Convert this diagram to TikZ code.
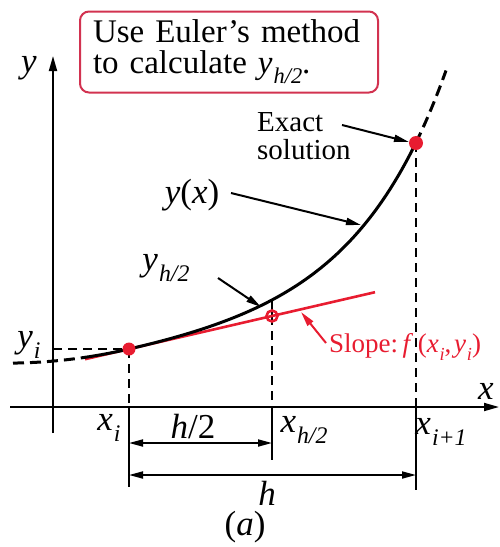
\documentclass[tikz,border=0pt]{standalone}
\usepackage{fontspec}
\setmainfont{Liberation Serif}
\usepackage{graphicx}
\usetikzlibrary{arrows.meta}
\definecolor{redline}{RGB}{232,28,48}
\definecolor{boxred}{RGB}{210,50,80}
\newcommand{\vsub}[2]{\textit{#1}\kern0.03em\raisebox{-0.3em}{\scalebox{0.68}{\textit{#2}}}}
\begin{document}
\begin{tikzpicture}[x=1pt,y=-1pt,
  axis/.style={line width=1.8pt,-{Triangle[length=15pt,width=8pt]}},
  curve/.style={line width=3pt},
  guide/.style={line width=1.8pt,dash pattern=on 9pt off 6pt},
  curvedash/.style={line width=3pt,dash pattern=on 11pt off 6pt},
  ext/.style={line width=1.8pt},
  dim/.style={line width=1.8pt,{Triangle[length=14pt,width=7pt]}-{Triangle[length=14pt,width=7pt]}},
  pointer/.style={line width=2pt,-{Triangle[length=15pt,width=7pt]}},
  big/.style={font=\fontsize{35}{35}\selectfont,inner sep=0pt},
  mid/.style={font=\fontsize{29}{28}\selectfont,inner sep=0pt},
  reddot/.style={circle,fill=redline,minimum size=13pt,inner sep=0pt},
  redring/.style={circle,draw=redline,line width=2.6pt,minimum size=11pt,inner sep=0pt}
]
\useasboundingbox (0,0) rectangle (500,547);

% axes
\coordinate (xa0) at (10,407);
\coordinate (xa1) at (499,407);
\coordinate (ya0) at (53,433);
\coordinate (ya1) at (53,56);
\draw[axis] (xa0) -- (xa1);
\draw[axis] (ya0) -- (ya1);
\node[big] (xlab) at (486,391) {\textit{x}};
\node[big] (ylab) at (29,68) {\textit{y}};

% key points
\coordinate (Pi) at (129,349);
\coordinate (Ph) at (272,316);
\coordinate (Ch) at (272,300);
\coordinate (Pe) at (416,143);
\coordinate (Xi) at (129,407);
\coordinate (Xh) at (272,407);
\coordinate (Xe) at (416,407);
\coordinate (Xib) at (129,487);
\coordinate (Xhb) at (272,460);
\coordinate (Xeb) at (416,490);
\coordinate (Yi) at (53,349);

% guides
\draw[guide] (Yi) -- (Pi);
\draw[guide] (Pi) -- (Xi);
\draw[ext] (Ch) -- (Ph);
\draw[guide] (Ph) -- (Xh);
\draw[guide] (Pe) -- (Xe);
\draw[ext] (Xi) -- (Xib);
\draw[ext] (Xh) -- (Xhb);
\draw[ext] (Xe) -- (Xeb);

% tangent
\coordinate (T0) at (85,359.2);
\coordinate (T1) at (375,292.2);
\draw[redline,line width=2.6pt] (T0) -- (T1);

% curve
\draw[curvedash] plot[domain=13:85,samples=30] (\x,{349+0.231*(129-\x)-0.000951*(129-\x)^2});
\draw[curve] plot[domain=85:129,samples=20] (\x,{349+0.231*(129-\x)-0.000951*(129-\x)^2});
\draw[curve] plot[domain=129:416,samples=80] (\x,{349-0.231*(\x-129)-6.78*(exp(0.0112*(\x-129))-1-0.0112*(\x-129))});
\draw[curvedash] plot[domain=416:446,samples=20] (\x,{349-0.231*(\x-129)-6.78*(exp(0.0112*(\x-129))-1-0.0112*(\x-129))});

% points
\node[reddot] (dotI) at (Pi) {};
\node[redring] (ringH) at (Ph) {};
\node[reddot,minimum size=14pt] (dotE) at (Pe) {};

% dimension arrows
\coordinate (Dh0) at (129,443);
\coordinate (Dh1) at (272,443);
\coordinate (D0) at (129,475);
\coordinate (D1) at (416,475);
\draw[dim] (Dh0) -- (Dh1);
\draw[dim] (D0) -- (D1);

% axis labels
\node[big] (lxi) at (109,428) {\vsub{x}{i}};
\node[big] (lh2) at (193,427) {\textit{h}/2};
\node[big] (lxh) at (304,430) {\vsub{x}{h/2}};
\node[big] (lxe) at (441,432) {\vsub{x}{i+1}};
\node[big] (lh) at (267,493) {\textit{h}};
\node[big] (la) at (245,527) {(\textit{a})};
\node[big] (lyi) at (29,345) {\vsub{y}{i}};

% box
\node[draw=boxred,line width=2pt,rounded corners=9pt,minimum width=298pt,minimum height=81pt,
  align=left,font=\fontsize{33}{31}\selectfont,inner sep=0pt,text width=272pt] (box) at (229,52)
  {Use Euler’s method\\to calculate \vsub{y}{h/2}.};

% labels with pointers
\node[mid,align=left,anchor=west] (exact) at (257,136) {Exact\\solution};
\coordinate (ea0) at (342,125);
\coordinate (ea1) at (409,142);
\draw[pointer] (ea0) -- (ea1);

\node[big] (yx) at (192,195) {\textit{y}(\textit{x})};
\coordinate (ya) at (231,193);
\coordinate (yb) at (361,225);
\draw[pointer] (ya) -- (yb);

\node[big] (yh) at (166,268) {\vsub{y}{h/2}};
\coordinate (ha0) at (218,278);
\coordinate (ha1) at (261,307);
\draw[pointer] (ha0) -- (ha1);

\node[text=redline,anchor=base west,inner sep=0pt,font=\fontsize{27}{27}\selectfont] (slope) at (329,352) {Slope:\,\textit{f}\,(\vsub{x}{i},\kern0.1em\vsub{y}{i})};
\coordinate (sa0) at (326,343);
\coordinate (sa1) at (301,312);
\draw[pointer,redline] (sa0) -- (sa1);
\end{tikzpicture}
\end{document}
